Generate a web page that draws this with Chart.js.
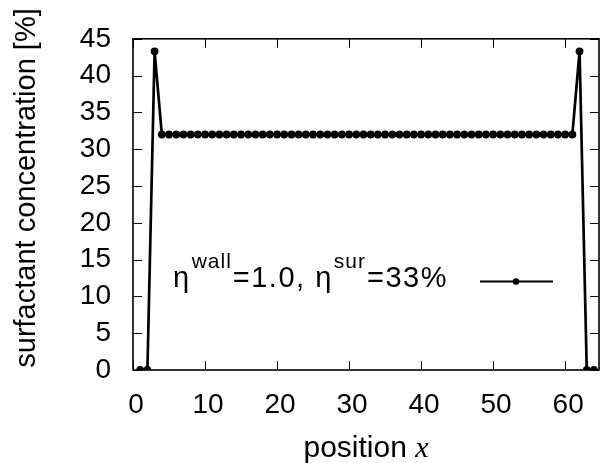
<!DOCTYPE html>
<html><head><meta charset="utf-8">
<script src="https://cdn.jsdelivr.net/npm/chart.js@4/dist/chart.umd.min.js"></script>
<style>html,body{margin:0;padding:0;background:#fff;}canvas{display:block}</style>
</head><body>
<canvas id="c" width="603" height="463"></canvas>
<script>
// ---- data ----
const positions = [1,2,3,4,5,6,7,8,9,10,11,12,13,14,15,16,17,18,19,20,21,22,23,24,25,26,27,28,29,30,31,32,
  33,34,35,36,37,38,39,40,41,42,43,44,45,46,47,48,49,50,51,52,53,54,55,56,57,58,59,60,61,62,63,64];
const concentration = [0,0,43.3,32.0,32.0,32.0,32.0,32.0,32.0,32.0,32.0,32.0,32.0,32.0,32.0,32.0,32.0,32.0,32.0,32.0,
  32.0,32.0,32.0,32.0,32.0,32.0,32.0,32.0,32.0,32.0,32.0,32.0,32.0,32.0,32.0,32.0,32.0,32.0,32.0,32.0,
  32.0,32.0,32.0,32.0,32.0,32.0,32.0,32.0,32.0,32.0,32.0,32.0,32.0,32.0,32.0,32.0,32.0,32.0,32.0,32.0,
  32.0,43.3,0,0];
const xTickValues = [0,10,20,30,40,50,60];
const yTickValues = [0,5,10,15,20,25,30,35,40,45];
const xRange = [0, 64.7];
const yRange = [0, 45];
const xTitleText = 'position ';
const xTitleVar = 'x';
const yTitleText = 'surfactant concentration [%]';
const legendParts = [['η','n'],['wall','s'],['=1.0, η','n'],['sur','s'],['=33%','n']];

const SANS = '"Liberation Sans", Arial, Helvetica, sans-serif';
const SERIF = '"Liberation Serif", "Times New Roman", serif';
const FS = 28;

const framePlugin = {
  id: 'frame',
  beforeDatasetsDraw(chart) {
    const {ctx, chartArea: a, scales: {x, y}} = chart;
    ctx.save();
    ctx.strokeStyle = '#000';
    ctx.lineWidth = 1;
    const tl = 9;
    ctx.beginPath();
    xTickValues.forEach(v => {
      const px = Math.round(x.getPixelForValue(v)) + 0.5;
      ctx.moveTo(px, a.bottom); ctx.lineTo(px, a.bottom - tl);
      ctx.moveTo(px, a.top); ctx.lineTo(px, a.top + tl);
    });
    yTickValues.forEach(v => {
      const py = Math.round(y.getPixelForValue(v)) + 0.5;
      ctx.moveTo(a.left, py); ctx.lineTo(a.left + tl, py);
      ctx.moveTo(a.right, py); ctx.lineTo(a.right - tl, py);
    });
    ctx.stroke();
    ctx.lineWidth = 1.6;
    ctx.strokeRect(a.left, a.top, a.right - a.left, a.bottom - a.top);
    ctx.restore();
  },
  afterDraw(chart) {
    const {ctx, chartArea: a} = chart;
    ctx.save();
    ctx.fillStyle = '#000';
    ctx.textBaseline = 'alphabetic';
    // x title
    const xf = 30;
    ctx.font = xf + 'px ' + SANS;
    const w1 = ctx.measureText(xTitleText).width;
    ctx.font = 'italic ' + xf + 'px ' + SERIF;
    const w2 = ctx.measureText(xTitleVar).width;
    const cx = (a.left + a.right) / 2;
    const sx = cx - (w1 + w2) / 2;
    ctx.textAlign = 'left';
    ctx.font = xf + 'px ' + SANS;
    ctx.fillText(xTitleText, sx, 457);
    ctx.font = 'italic ' + xf + 'px ' + SERIF;
    ctx.fillText(xTitleVar, sx + w1, 457);
    // y title
    ctx.save();
    ctx.translate(35, 188);
    ctx.rotate(-Math.PI / 2);
    ctx.font = '29px ' + SANS;
    ctx.textAlign = 'center';
    ctx.fillText(yTitleText, 0, 0);
    ctx.restore();
    // legend
    ctx.textAlign = 'left';
    let lx = 173;
    const base = 287, supBase = 268;
    legendParts.forEach(([t, k]) => {
      if (k === 'n') {
        ctx.font = '29px ' + SANS;
        ctx.letterSpacing = '1.5px';
        ctx.fillText(t, lx, base);
        lx += ctx.measureText(t).width;
      } else {
        ctx.font = '21px ' + SANS;
        ctx.letterSpacing = '1px';
        ctx.fillText(t, lx + 1, supBase);
        lx += ctx.measureText(t).width + 2;
      }
    });
    ctx.letterSpacing = '0px';
    ctx.strokeStyle = '#000';
    ctx.lineWidth = 2;
    ctx.beginPath();
    ctx.moveTo(480, 281.5); ctx.lineTo(553, 281.5);
    ctx.stroke();
    ctx.beginPath();
    ctx.arc(516, 281.5, 3.3, 0, Math.PI * 2);
    ctx.fill();
    ctx.restore();
  }
};

new Chart(document.getElementById('c'), {
  type: 'line',
  data: {
    datasets: [{
      data: positions.map((p, i) => ({x: p, y: concentration[i]})),
      borderColor: '#000',
      backgroundColor: '#000',
      borderWidth: 2.7,
      pointRadius: 3.9,
      pointBorderWidth: 0,
      pointBackgroundColor: '#000',
      tension: 0,
      fill: false
    }]
  },
  options: {
    responsive: false,
    devicePixelRatio: 1,
    animation: false,
    events: [],
    layout: {padding: {left: 0, right: 3, top: 36, bottom: 0}},
    plugins: {legend: {display: false}, tooltip: {enabled: false}},
    scales: {
      x: {
        type: 'linear', min: xRange[0], max: xRange[1],
        afterBuildTicks: s => { s.ticks = xTickValues.map(v => ({value: v})); },
        afterFit: s => { s.height = 93; },
        grid: {display: false, drawTicks: false},
        border: {display: false},
        ticks: {color: '#000', padding: 18, labelOffset: 3, font: {family: SANS, size: FS}, maxRotation: 0, autoSkip: false}
      },
      y: {
        type: 'linear', min: yRange[0], max: yRange[1],
        afterBuildTicks: s => { s.ticks = yTickValues.map(v => ({value: v})); },
        afterFit: s => { s.width = 133; },
        grid: {display: false, drawTicks: false},
        border: {display: false},
        ticks: {color: '#000', padding: 22, font: {family: SANS, size: FS}, autoSkip: false}
      }
    }
  },
  plugins: [framePlugin]
});
</script>
</body></html>
